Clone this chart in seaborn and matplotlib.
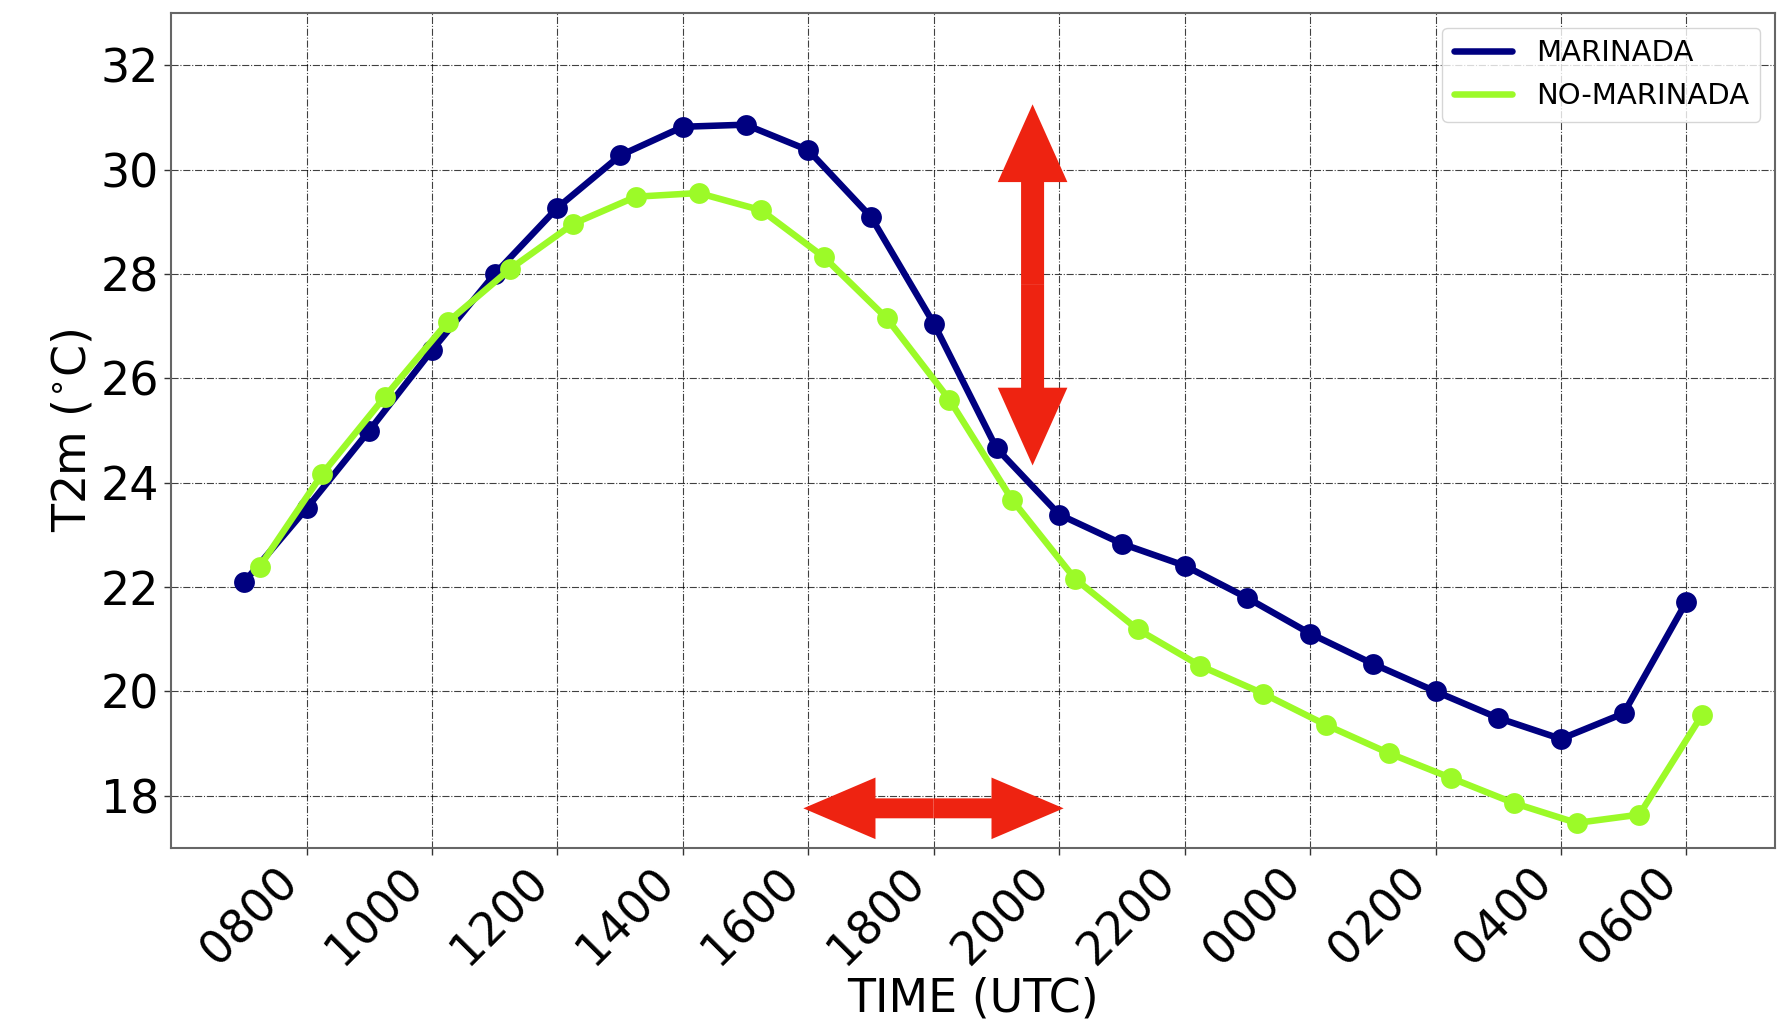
import numpy as np
import pandas as pd
import matplotlib
matplotlib.use("Agg")
import matplotlib.pyplot as plt
from matplotlib.patches import FancyArrow
from matplotlib.lines import Line2D
import seaborn as sns

# ---- data ----
hours = list(range(7, 31))  # 0700 day 1 ... 0600 day 2
time_offset_nomarinada = 0.25
marinada = [22.09, 23.51, 25.00, 26.54, 28.00, 29.27, 30.27, 30.82, 30.86, 30.37,
            29.09, 27.05, 24.66, 23.39, 22.83, 22.41, 21.79, 21.11, 20.53, 20.00,
            19.49, 19.09, 19.58, 21.72]
no_marinada = [22.39, 24.17, 25.65, 27.08, 28.10, 28.96, 29.48, 29.55, 29.22, 28.32,
               27.15, 25.59, 23.67, 22.16, 21.19, 20.49, 19.96, 19.36, 18.82, 18.34,
               17.86, 17.48, 17.64, 19.55]
tick_pos = list(range(8, 31, 2))
tick_labels = ['0800', '1000', '1200', '1400', '1600', '1800', '2000', '2200',
               '0000', '0200', '0400', '0600']
series_names = ['MARINADA', 'NO-MARINADA']
colors = {'MARINADA': '#000080', 'NO-MARINADA': '#9cfa28'}

df = pd.concat([
    pd.DataFrame({'time': hours, 'T2m': marinada, 'run': 'MARINADA'}),
    pd.DataFrame({'time': np.array(hours) + time_offset_nomarinada,
                  'T2m': no_marinada, 'run': 'NO-MARINADA'}),
])

sns.set_style('white', {'text.color': 'black', 'axes.labelcolor': 'black',
                        'xtick.color': 'black', 'ytick.color': 'black'})
plt.rcParams['font.family'] = ['DejaVu Sans']

fig = plt.figure(figsize=(17.82, 10.30), dpi=100)
ax = fig.add_axes([171/1782, 1 - 848/1030, (1775-171)/1782, (848-13)/1030])

sns.lineplot(data=df, x='time', y='T2m', hue='run', palette=colors,
             marker='o', markersize=15, markeredgewidth=0, linewidth=4.7,
             legend=False, ax=ax, zorder=3)

ax.set_ylim(17, 33)
ax.set_yticks([18, 20, 22, 24, 26, 28, 30, 32])
ax.set_xticks(tick_pos)
ax.set_xticklabels(tick_labels, rotation=45, ha='right')
ax.tick_params(axis='both', labelsize=33, length=5, width=1, direction='out',
               left=True, bottom=True, color='0.2', labelcolor='black')
ax.set_xlabel('TIME (UTC)', fontsize=33, labelpad=2, color='black')
ax.set_ylabel('T2m ($^{\\circ}$C)', fontsize=33, color='black')

ax.grid(True, linestyle='-.', color='black', linewidth=0.8, alpha=0.75)
ax.set_axisbelow(True)
for s in ax.spines.values():
    s.set_color('0.4')
    s.set_linewidth(1.5)

# red double arrows
red = '#ee2311'
vx, vtop, vbot = 19.575, 31.25, 24.33
vc = (vtop + vbot) / 2
for end in (vtop, vbot):
    ax.add_patch(FancyArrow(vx, vc, 0, end - vc, width=0.367, head_width=1.11,
                            head_length=1.49, length_includes_head=True,
                            color=red, lw=0, zorder=4))
hy, hl, hr = 17.76, 15.92, 20.07
hc = (hl + hr) / 2
for end in (hl, hr):
    ax.add_patch(FancyArrow(hc, hy, end - hc, 0, width=0.382, head_width=1.18,
                            head_length=1.15, length_includes_head=True,
                            color=red, lw=0, zorder=4))

handles = [Line2D([0], [0], color=colors[n], lw=4.7) for n in series_names]
leg = ax.legend(handles, series_names, loc='upper right', fontsize=21)
for t in leg.get_texts():
    t.set_color('black')

fig.savefig('out.png', dpi=100)
